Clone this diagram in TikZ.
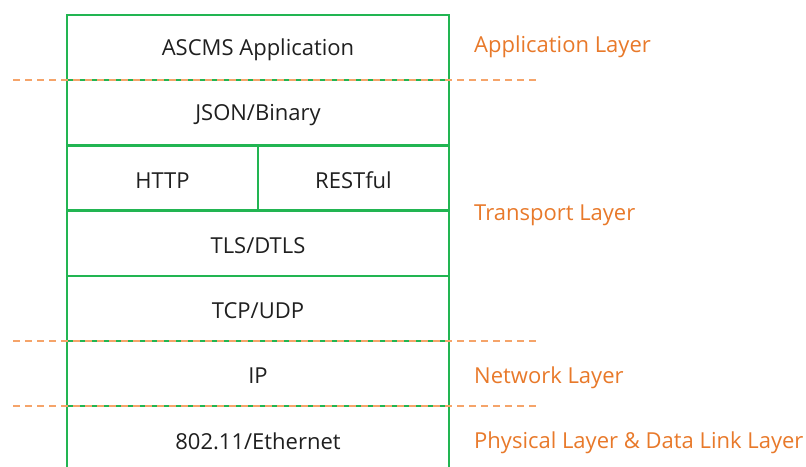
\documentclass[tikz,border=0pt]{standalone}
\usepackage{fontspec}
\setmainfont{Open Sans}
\definecolor{stackgreen}{HTML}{22B552}
\definecolor{layerorange}{HTML}{E8792A}
\definecolor{dashorange}{HTML}{F5A46A}
\begin{document}
\begin{tikzpicture}[x=1pt,y=-1pt,
  cell/.style={draw=stackgreen,line width=2.2pt,minimum height=65pt,inner sep=0pt,
    font=\fontsize{22}{24}\selectfont,text=black!88},
  celltext/.style={inner sep=0pt,font=\fontsize{22}{24}\selectfont,text=black!88},
  layername/.style={anchor=west,text=layerorange,font=\fontsize{22}{24}\selectfont,inner sep=0pt},
  layersep/.style={draw=dashorange,line width=1.3pt,dash pattern=on 7pt off 5pt}]
\useasboundingbox (0,0) rectangle (806,466);
% protocol stack, one cell per row
\node[cell,minimum width=382pt] (app) at (258,47.5) {};
\node[cell,minimum width=382pt] (json) at (258,112.5) {};
\node[cell,minimum width=191pt] (http) at (162.5,178) {};
\node[cell,minimum width=191pt] (rest) at (353.5,178) {};
\node[cell,minimum width=382pt] (tls) at (258,243.5) {};
\node[cell,minimum width=382pt] (tcp) at (258,308.5) {};
\node[cell,minimum width=382pt] (ip) at (258,373.5) {};
\node[cell,minimum width=382pt] (eth) at (258,438.5) {};
% cell captions, set a little below the cell centres
\node[celltext] (tapp) at ([yshift=-2.5pt]app.center) {ASCMS Application};
\node[celltext] (tjson) at ([yshift=-2.5pt]json.center) {JSON/Binary};
\node[celltext] (thttp) at ([yshift=-2.5pt]http.center) {HTTP};
\node[celltext] (trest) at ([yshift=-2.5pt]rest.center) {RESTful};
\node[celltext] (ttls) at ([yshift=-2.5pt]tls.center) {TLS/DTLS};
\node[celltext] (ttcp) at ([yshift=-2.5pt]tcp.center) {TCP/UDP};
\node[celltext] (tip) at ([yshift=-2.5pt]ip.center) {IP};
\node[celltext] (teth) at ([yshift=-2.5pt]eth.center) {802.11/Ethernet};
% boundaries between the layers
\coordinate (s1a) at (13,80);  \coordinate (s1b) at (540,80);
\coordinate (s2a) at (13,341); \coordinate (s2b) at (540,341);
\coordinate (s3a) at (13,406); \coordinate (s3b) at (540,406);
\draw[layersep] (s1a) -- (s1b);
\draw[layersep] (s2a) -- (s2b);
\draw[layersep] (s3a) -- (s3b);
% layer names
\node[layername] (lapp) at (474,47) {Application Layer};
\node[layername] (ltra) at (474,215) {Transport Layer};
\node[layername] (lnet) at (474,378) {Network Layer};
\node[layername] (lphy) at (474,443) {Physical Layer \& Data Link Layer};
\end{tikzpicture}
\end{document}
